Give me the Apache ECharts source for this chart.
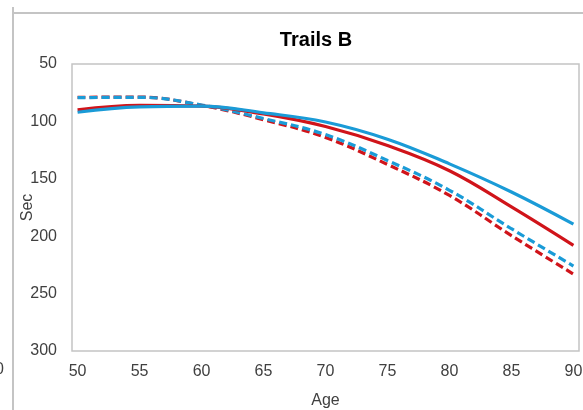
<!DOCTYPE html>
<html>
<head>
<meta charset="utf-8">
<script src="https://cdn.jsdelivr.net/npm/echarts@6/dist/echarts.min.js"></script>
<style>
html,body{margin:0;padding:0;background:#fff;}
#chart{width:583px;height:410px;}
</style>
</head>
<body>
<div id="chart"></div>
<script>
var ages = [50, 55, 60, 65, 70, 75, 80, 85, 90];
var xTicks = [50, 55, 60, 65, 70, 75, 80, 85, 90];
var yTicks = [50, 100, 150, 200, 250, 300];
var blueSolid  = [92, 87.3, 86.7, 92.5, 100.5, 115.5, 137, 161.5, 189.5];
var redSolid   = [90, 86, 86.7, 93.5, 104.5, 121, 143, 174.5, 208];
var blueDashed = [79.3, 79, 85.7, 97.5, 111.5, 134, 160, 193.5, 226];
var redDashed  = [79, 78.8, 86, 98.5, 114, 137.5, 164.5, 199.5, 233];

var BLUE = '#1a9bd7';
var RED = '#d0141a';
var FONT = 'Liberation Sans, Arial, sans-serif';

function pairs(ys) { return ages.map(function (a, i) { return [a, ys[i]]; }); }
function mk(name, ys, color, dashed) {
  return {
    name: name, type: 'line', data: pairs(ys), smooth: 0.4,
    symbol: 'none', silent: true,
    lineStyle: { color: color, width: 3.2, type: dashed ? [8, 4] : 'solid', cap: 'butt' }
  };
}

var chart = echarts.init(document.getElementById('chart'), null, { renderer: 'canvas' });
chart.setOption({
  animation: false,
  backgroundColor: '#fff',
  title: {
    text: 'Trails B', left: 311, top: 25, textAlign: 'center',
    textStyle: { fontFamily: FONT, fontSize: 20, fontWeight: 'bold', color: '#000' }
  },
  grid: { left: 72, right: 4, top: 64, bottom: 59, show: true, borderColor: '#c4c4c4', borderWidth: 1.5,
          containLabel: false, outerBoundsMode: 'none' },
  xAxis: {
    type: 'value', min: 49.55, max: 90.45,
    name: 'Age', nameLocation: 'middle', nameGap: 42, nameMoveOverlap: false,
    nameTextStyle: { fontFamily: FONT, fontSize: 16, color: '#404040' },
    axisLine: { show: false }, axisTick: { show: false }, splitLine: { show: false },
    axisLabel: { customValues: xTicks, margin: 13, fontFamily: FONT, fontSize: 16, color: '#404040' }
  },
  yAxis: {
    type: 'value', inverse: true, min: 50, max: 300, interval: 50,
    name: 'Sec', nameLocation: 'middle', nameGap: 36, nameRotate: 90, nameMoveOverlap: false,
    nameTextStyle: { fontFamily: FONT, fontSize: 16, color: '#404040' },
    axisLine: { show: false }, axisTick: { show: false }, splitLine: { show: false },
    axisLabel: { customValues: yTicks, margin: 15, fontFamily: FONT, fontSize: 16, color: '#404040' }
  },
  graphic: [
    { type: 'line', shape: { x1: 13, y1: 7, x2: 13, y2: 410 }, style: { stroke: '#c4c4c4', lineWidth: 2 }, silent: true },
    { type: 'line', shape: { x1: 13, y1: 13, x2: 583, y2: 13 }, style: { stroke: '#c4c4c4', lineWidth: 2 }, silent: true },
    { type: 'text', left: -5, top: 362, style: { text: '0', font: '16px Liberation Sans, Arial, sans-serif', fill: '#404040' }, silent: true }
  ],
  series: [
    mk('Red dashed', redDashed, RED, true),
    mk('Blue dashed', blueDashed, BLUE, true),
    mk('Red solid', redSolid, RED, false),
    mk('Blue solid', blueSolid, BLUE, false)
  ]
});
</script>
</body>
</html>
